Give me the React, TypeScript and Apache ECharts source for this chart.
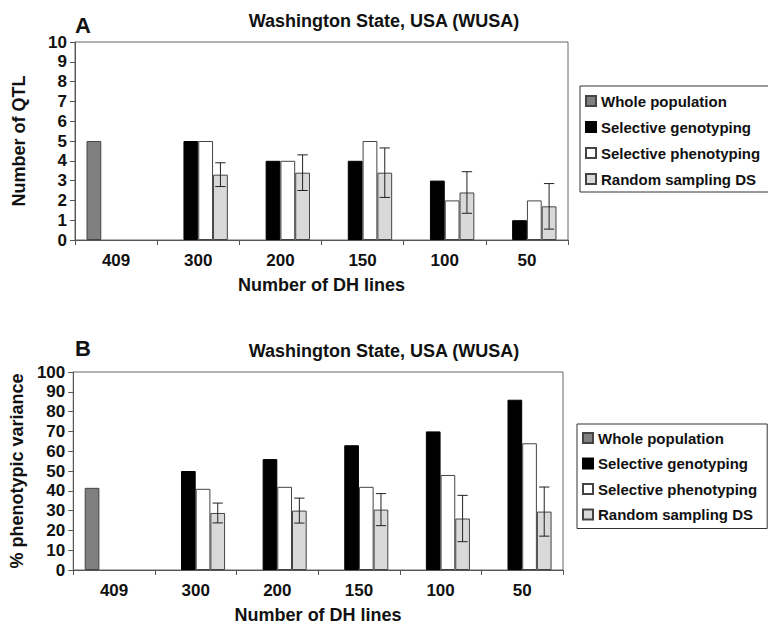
import React, { useEffect, useRef } from "react";
import * as echarts from "echarts";

const categories = ["409", "300", "200", "150", "100", "50"];
const seriesNames = ["Whole population", "Selective genotyping", "Selective phenotyping", "Random sampling DS"];

// Panel A: Number of QTL
const qtlWhole = [5, "-", "-", "-", "-", "-"];
const qtlGenotyping = ["-", 5, 4, 4, 3, 1];
const qtlPhenotyping = ["-", 5, 4, 5, 2, 2];
const qtlRandom = ["-", 3.3, 3.4, 3.4, 2.4, 1.7];
const qtlRandomErr = ["-", 0.6, 0.9, 1.25, 1.05, 1.15];

// Panel B: % phenotypic variance
const varWhole = [41.5, "-", "-", "-", "-", "-"];
const varGenotyping = ["-", 50, 56, 63, 70, 86];
const varPhenotyping = ["-", 41, 42, 42, 48, 64];
const varRandom = ["-", 28.8, 30, 30.5, 26, 29.5];
const varRandomErr = ["-", 5, 6.3, 8.1, 11.7, 12.4];

const FONT = "'Liberation Sans', Arial, sans-serif";
const CAT_GAP = 0.28;

const styles = [
  { color: "#808080", borderColor: "#444", borderWidth: 1 },
  { color: "#000000", borderColor: "#000", borderWidth: 1 },
  { color: "#ffffff", borderColor: "#444", borderWidth: 1 },
  { color: "#d9d9d9", borderColor: "#444", borderWidth: 1 },
];

function buildErrData(means: any[], errs: any[]) {
  const out: any[] = [];
  means.forEach((m, i) => {
    if (m !== "-" && errs[i] !== "-") out.push([i, m, errs[i]]);
  });
  return out;
}

function errRender(params: any, api: any) {
  const cat = api.value(0);
  const v = api.value(1);
  const e = api.value(2);
  const c = api.coord([cat, v]);
  const band = api.size([1, 0])[0];
  const bw = (band * (1 - CAT_GAP)) / 4;
  const x = c[0] + 1.5 * bw;
  const yTop = api.coord([cat, v + e])[1];
  const yBot = api.coord([cat, v - e])[1];
  const hw = bw * 0.35;
  const st = { stroke: "#222", lineWidth: 1 };
  return {
    type: "group",
    children: [
      { type: "line", shape: { x1: x, y1: yTop, x2: x, y2: yBot }, style: st },
      { type: "line", shape: { x1: x - hw, y1: yTop, x2: x + hw, y2: yTop }, style: st },
      { type: "line", shape: { x1: x - hw, y1: yBot, x2: x + hw, y2: yBot }, style: st },
    ],
  };
}

export default function App() {
  const ref = useRef<HTMLDivElement>(null);
  useEffect(() => {
    if (!ref.current) return;
    const chart = echarts.init(ref.current, null, { renderer: "svg" });

    const axisLineStyle = { color: "#555", width: 1 };
    const xAxisCommon = {
      type: "category",
      data: categories,
      axisLine: { lineStyle: axisLineStyle },
      axisTick: { show: true, length: 5, lineStyle: axisLineStyle },
      axisLabel: { fontSize: 17, fontWeight: "bold", color: "#111", margin: 12, fontFamily: FONT },
      name: "Number of DH lines",
      nameLocation: "middle",
      nameGap: 36,
      nameTextStyle: { fontSize: 18, fontWeight: "bold", color: "#111", fontFamily: FONT },
      splitLine: { show: false },
    };
    const yAxisCommon = {
      type: "value",
      min: 0,
      axisLine: { show: true, lineStyle: axisLineStyle },
      axisTick: { show: true, length: 5, lineStyle: axisLineStyle },
      axisLabel: { fontSize: 17, fontWeight: "bold", color: "#111", margin: 8, fontFamily: FONT },
      splitLine: { show: false },
      nameLocation: "middle",
      nameTextStyle: { fontSize: 18, fontWeight: "bold", color: "#111", fontFamily: FONT },
    };

    const mkBars = (arrs: any[][], axisIndex: number) =>
      arrs.map((d, k) => ({
        type: "bar",
        name: seriesNames[k],
        xAxisIndex: axisIndex,
        yAxisIndex: axisIndex,
        data: d,
        barGap: "0%",
        barCategoryGap: CAT_GAP * 100 + "%",
        itemStyle: styles[k],
      }));

    const legendCommon = {
      orient: "vertical",
      data: seriesNames,
      itemWidth: 10,
      itemHeight: 10,
      icon: "rect",
      borderColor: "#333",
      borderWidth: 1,
      selectedMode: false,
      textStyle: { fontSize: 15, fontWeight: "bold", color: "#111", fontFamily: FONT, lineHeight: 16 },
    };

    const option: any = {
      animation: false,
      backgroundColor: "#ffffff",
      textStyle: { fontFamily: FONT },
      title: [
        { text: "Washington State, USA (WUSA)", left: "center", top: 12, padding: 0,
          textStyle: { fontSize: 18, fontWeight: "bold", color: "#111", fontFamily: FONT } },
        { text: "A", left: 75, top: 14, padding: 0,
          textStyle: { fontSize: 22, fontWeight: "bold", color: "#111", fontFamily: FONT } },
        { text: "Washington State, USA (WUSA)", left: "center", top: 342, padding: 0,
          textStyle: { fontSize: 18, fontWeight: "bold", color: "#111", fontFamily: FONT } },
        { text: "B", left: 75, top: 337, padding: 0,
          textStyle: { fontSize: 22, fontWeight: "bold", color: "#111", fontFamily: FONT } },
      ],
      legend: [
        { ...legendCommon, left: 580, top: 86, padding: [7, 10, 5, 5], itemGap: 10 },
        { ...legendCommon, left: 577, top: 424, padding: [6, 10, 6, 5], itemGap: 9.5 },
      ],
      grid: [
        { left: 75, top: 42, width: 493, height: 198, show: true, borderColor: "#666", borderWidth: 1, backgroundColor: "transparent" },
        { left: 73, top: 372, width: 490, height: 200, show: true, borderColor: "#666", borderWidth: 1, backgroundColor: "transparent" },
      ],
      xAxis: [
        { ...xAxisCommon, gridIndex: 0 },
        { ...xAxisCommon, gridIndex: 1 },
      ],
      yAxis: [
        { ...yAxisCommon, gridIndex: 0, max: 10, interval: 1, name: "Number of QTL", nameGap: 47 },
        { ...yAxisCommon, gridIndex: 1, max: 100, interval: 10, name: "% phenotypic variance", nameGap: 46 },
      ],
      series: [
        ...mkBars([qtlWhole, qtlGenotyping, qtlPhenotyping, qtlRandom], 0),
        ...mkBars([varWhole, varGenotyping, varPhenotyping, varRandom], 1),
        {
          type: "custom",
          name: "errA",
          xAxisIndex: 0,
          yAxisIndex: 0,
          renderItem: errRender,
          data: buildErrData(qtlRandom, qtlRandomErr),
          z: 5,
        },
        {
          type: "custom",
          name: "errB",
          xAxisIndex: 1,
          yAxisIndex: 1,
          renderItem: errRender,
          data: buildErrData(varRandom, varRandomErr),
          z: 5,
        },
      ],
    };
    chart.setOption(option);
    return () => chart.dispose();
  }, []);

  return (
    <div
      ref={ref}
      style={{ position: "fixed", left: 0, top: 0, width: 768, height: 625, background: "#fff" }}
    />
  );
}
